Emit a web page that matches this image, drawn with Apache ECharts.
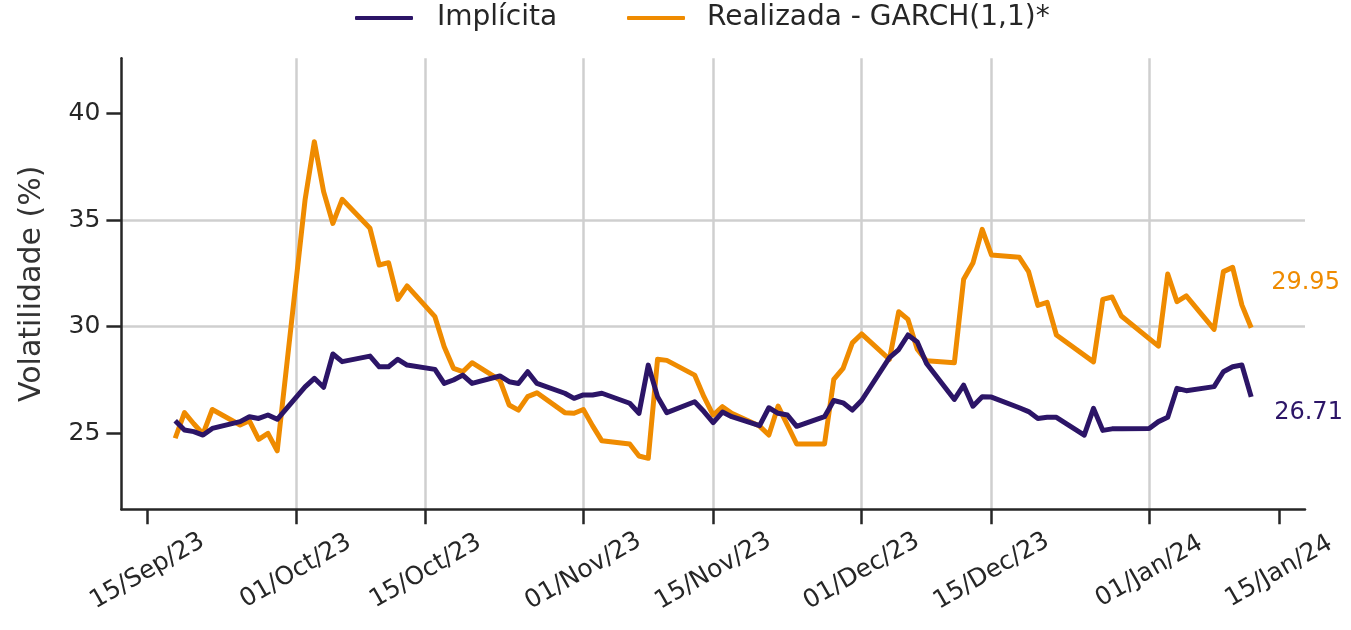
<!DOCTYPE html>
<html>
<head>
<meta charset="utf-8">
<title>Volatilidade implícita x realizada</title>
<script src="https://cdn.jsdelivr.net/npm/echarts@6/dist/echarts.min.js"></script>
<style>
  html, body { margin: 0; padding: 0; background: #ffffff; }
  #chart { width: 1351px; height: 630px; }
</style>
</head>
<body>
<div id="chart"></div>
<script>
// Trading days (YYYY-MM-DD)
const dates = [
  '2023-09-18','2023-09-19','2023-09-20','2023-09-21','2023-09-22',
  '2023-09-25','2023-09-26','2023-09-27','2023-09-28','2023-09-29',
  '2023-10-02','2023-10-03','2023-10-04','2023-10-05','2023-10-06',
  '2023-10-09','2023-10-10','2023-10-11','2023-10-12','2023-10-13',
  '2023-10-16','2023-10-17','2023-10-18','2023-10-19','2023-10-20',
  '2023-10-23','2023-10-24','2023-10-25','2023-10-26','2023-10-27',
  '2023-10-30','2023-10-31','2023-11-01','2023-11-02','2023-11-03',
  '2023-11-06','2023-11-07','2023-11-08','2023-11-09','2023-11-10',
  '2023-11-13','2023-11-14','2023-11-15','2023-11-16','2023-11-17',
  '2023-11-20','2023-11-21','2023-11-22','2023-11-23','2023-11-24',
  '2023-11-27','2023-11-28','2023-11-29','2023-11-30','2023-12-01',
  '2023-12-04','2023-12-05','2023-12-06','2023-12-07','2023-12-08',
  '2023-12-11','2023-12-12','2023-12-13','2023-12-14','2023-12-15',
  '2023-12-18','2023-12-19','2023-12-20','2023-12-21','2023-12-22',
  '2023-12-25','2023-12-26','2023-12-27','2023-12-28','2023-12-29',
  '2024-01-01','2024-01-02','2024-01-03','2024-01-04','2024-01-05',
  '2024-01-08','2024-01-09','2024-01-10','2024-01-11','2024-01-12'
];

// Implied volatility (%)
const implicita = [
  25.59, 25.16, 25.08, 24.92, 25.23, 25.55, 25.78, 25.70, 25.86, 25.66,
  27.18, 27.58, 27.16, 28.72, 28.36, 28.62, 28.12, 28.12, 28.47, 28.20,
  28.00, 27.34, 27.50, 27.73, 27.34, 27.69, 27.42, 27.34, 27.89, 27.34,
  26.88, 26.64, 26.80, 26.80, 26.88, 26.41, 25.94, 28.20, 26.72, 25.97,
  26.48, 26.02, 25.50, 26.00, 25.78, 25.36, 26.20, 25.94, 25.86, 25.33,
  25.78, 26.54, 26.43, 26.09, 26.54, 28.55, 28.93, 29.61, 29.28, 28.27,
  26.59, 27.26, 26.27, 26.72, 26.70, 26.20, 26.02, 25.70, 25.75, 25.75,
  24.92, 26.17, 25.14, 25.21, 25.21, 25.23, 25.55, 25.75, 27.11, 27.00,
  27.19, 27.89, 28.12, 28.20, 26.71
];

// Realized volatility, GARCH(1,1) (%); null = no observation that day
const realizada = [
  24.77, 25.97, 25.45, 24.97, 26.12, 25.39, 25.59, 24.72, 25.00, 24.18,
  35.94, 38.67, 36.33, 34.84, 35.97, 34.61, 32.89, 33.00, 31.28, 31.91,
  30.47, 29.06, 28.05, 27.89, 28.31, 27.50, 26.33, 26.09, 26.72, 26.90,
  25.97, 25.94, 26.12, 25.35, 24.65, 24.50, 23.94, 23.83, 28.47, 28.42,
  27.73, 26.72, 25.86, 26.25, 25.94, 25.34, 24.92, 26.28, null, 24.50,
  24.50, 27.53, 28.05, 29.24, 29.66, 28.47, 30.70, 30.34, 28.94, 28.40,
  28.31, 32.22, 32.98, 34.56, 33.36, 33.25, 32.58, 31.00, 31.14, 29.61,
  null, 28.35, 31.28, 31.39, 30.50, null, 29.09, 32.47, 31.17, 31.44,
  29.87, 32.58, 32.78, 31.01, 29.95
];

// Date ticks and their labels
const xTickDates = ['2023-09-15','2023-10-01','2023-10-15','2023-11-01','2023-11-15',
                    '2023-12-01','2023-12-15','2024-01-01','2024-01-15'];
const xTickLabels = ['15/Sep/23','01/Oct/23','15/Oct/23','01/Nov/23','15/Nov/23',
                     '01/Dec/23','15/Dec/23','01/Jan/24','15/Jan/24'];
const yTicks = [25, 30, 35, 40];

const seriesNames = ['Implícita', 'Realizada - GARCH(1,1)*'];
const colors = ['#2c1567', '#ef8b00'];

function toTs(s) {
  const p = s.split('-').map(Number);
  return Date.UTC(p[0], p[1] - 1, p[2]);
}
const ts = dates.map(toTs);
const xTickTs = xTickDates.map(toTs);
const span = ts[ts.length - 1] - ts[0];
const xMin = ts[0] - span * 0.05;
const xMax = ts[ts.length - 1] + span * 0.05;

const FONT = 'DejaVu Sans';
const INK = '#262626';
const GRID = '#cfcfcf';

const pairs = arr => arr.map((v, i) => [ts[i], v]);

function endLabel(color, dx, dy) {
  return {
    show: true,
    formatter: p => Number(p.value[1]).toFixed(2),
    color: color,
    fontFamily: FONT,
    fontSize: 24,
    offset: [dx, dy]
  };
}

function legendItem(name, left, gap) {
  return {
    data: [name], left: left, top: 4, padding: 0,
    itemWidth: 58, itemHeight: 4, icon: 'roundRect',
    textStyle: { fontFamily: FONT, fontSize: 28, color: INK, padding: [0, 0, 0, gap] }
  };
}

const chart = echarts.init(document.getElementById('chart'), null, { renderer: 'canvas' });
chart.setOption({
  animation: false,
  backgroundColor: '#ffffff',
  textStyle: { fontFamily: FONT },
  legend: [
    legendItem(seriesNames[0], 355, 19),
    legendItem(seriesNames[1], 627, 17)
  ],
  grid: { left: 121.4, right: 46, top: 58.3, bottom: 120.7, containLabel: false },
  xAxis: {
    type: 'value',
    min: xMin,
    max: xMax,
    axisLine: { show: true, onZero: false, lineStyle: { color: INK, width: 2.5 } },
    axisTick: { show: true, length: 15, lineStyle: { color: INK, width: 2.5 }, customValues: xTickTs },
    axisLabel: {
      customValues: xTickTs,
      rotate: 30,
      align: 'center',
      verticalAlign: 'middle',
      margin: 62,
      fontFamily: FONT,
      fontSize: 25,
      color: INK,
      formatter: v => {
        const i = xTickTs.indexOf(v);
        return i >= 0 ? xTickLabels[i] : '';
      }
    },
    splitLine: { show: true, showMinLine: false, showMaxLine: false, lineStyle: { color: GRID, width: 2.5 } }
  },
  yAxis: {
    type: 'value',
    min: 21.44,
    max: 42.58,
    name: 'Volatilidade (%)',
    nameLocation: 'middle',
    nameGap: 74,
    nameTextStyle: { fontFamily: FONT, fontSize: 30, color: '#333333' },
    axisLine: { show: true, lineStyle: { color: INK, width: 2.5 } },
    axisTick: { show: true, length: 15, lineStyle: { color: INK, width: 2.5 }, customValues: yTicks },
    axisLabel: {
      customValues: yTicks,
      margin: 21,
      fontFamily: FONT,
      fontSize: 25,
      color: INK
    },
    splitLine: { show: true, showMinLine: false, showMaxLine: false, lineStyle: { color: GRID, width: 2.5 } }
  },
  series: [
    {
      name: seriesNames[0],
      type: 'line',
      data: pairs(implicita),
      showSymbol: false,
      symbol: 'none',
      connectNulls: true,
      color: colors[0],
      lineStyle: { width: 5, color: colors[0], join: 'round' },
      endLabel: endLabel(colors[0], 15, 16),
      z: 3
    },
    {
      name: seriesNames[1],
      type: 'line',
      data: pairs(realizada),
      showSymbol: false,
      symbol: 'none',
      connectNulls: true,
      color: colors[1],
      lineStyle: { width: 5, color: colors[1], join: 'round' },
      endLabel: endLabel(colors[1], 12, -45),
      z: 2
    }
  ]
});
</script>
</body>
</html>
